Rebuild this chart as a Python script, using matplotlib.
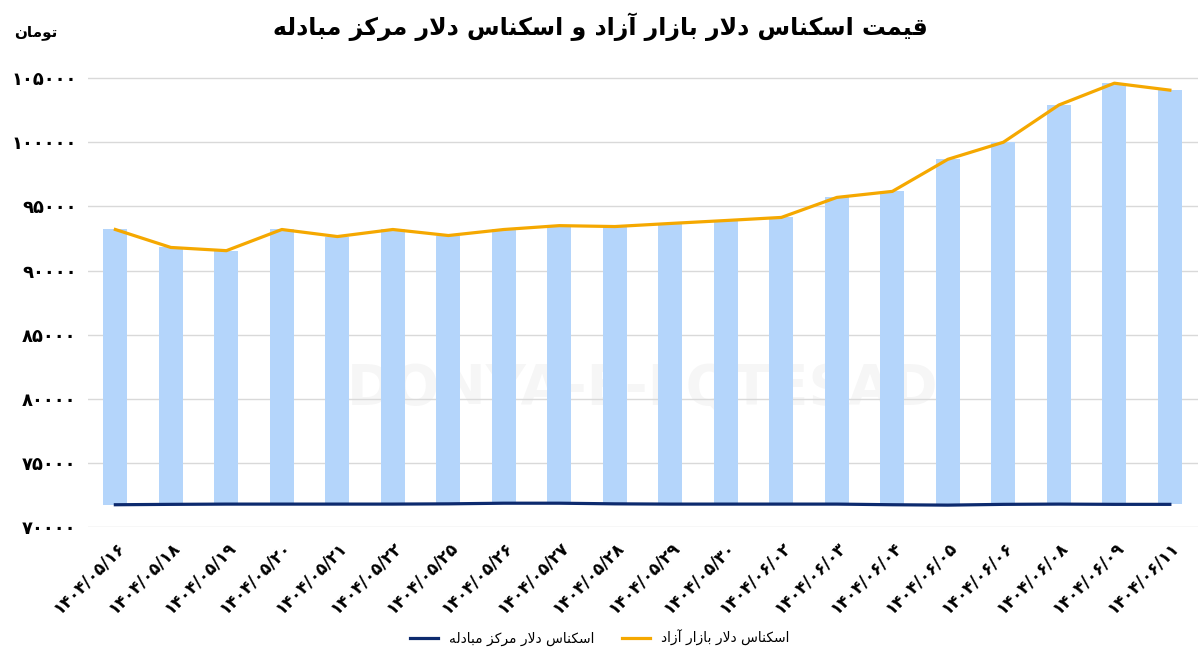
import matplotlib
matplotlib.use("Agg")
import matplotlib.pyplot as plt

# --- data ---
dates = ["1404/05/16", "1404/05/18", "1404/05/19", "1404/05/20", "1404/05/21", "1404/05/22",
         "1404/05/25", "1404/05/26", "1404/05/27", "1404/05/28", "1404/05/29", "1404/05/30",
         "1404/06/02", "1404/06/03", "1404/06/04", "1404/06/05", "1404/06/06", "1404/06/08",
         "1404/06/09", "1404/06/11"]
azad = [93200, 91800, 91550, 93200, 92650, 93200, 92730, 93200, 93500, 93430,
        93670, 93900, 94140, 95700, 96170, 98670, 100000, 102900, 104600, 104060]
mobadele = [71750, 71780, 71800, 71800, 71800, 71800, 71820, 71870, 71870, 71820,
            71800, 71800, 71800, 71800, 71750, 71720, 71780, 71800, 71780, 71780]
yticks = [70000, 75000, 80000, 85000, 90000, 95000, 100000, 105000]

TITLE = "قیمت اسکناس دلار بازار آزاد و اسکناس دلار مرکز مبادله"
LEG_AZAD = "اسکناس دلار بازار آزاد"
LEG_MOB = "اسکناس دلار مرکز مبادله"
UNIT = "تومان"

# --- minimal persian shaping (matplotlib has no bidi) ---
FORMS = {
    "ا": ("\uFE8D", "\uFE8E", None, None),
    "آ": ("\uFE81", "\uFE82", None, None),
    "ب": ("\uFE8F", "\uFE90", "\uFE91", "\uFE92"),
    "ت": ("\uFE95", "\uFE96", "\uFE97", "\uFE98"),
    "د": ("\uFEA9", "\uFEAA", None, None),
    "ر": ("\uFEAD", "\uFEAE", None, None),
    "ز": ("\uFEAF", "\uFEB0", None, None),
    "س": ("\uFEB1", "\uFEB2", "\uFEB3", "\uFEB4"),
    "ق": ("\uFED5", "\uFED6", "\uFED7", "\uFED8"),
    "ک": ("\uFB8E", "\uFB8F", "\uFB90", "\uFB91"),
    "ل": ("\uFEDD", "\uFEDE", "\uFEDF", "\uFEE0"),
    "م": ("\uFEE1", "\uFEE2", "\uFEE3", "\uFEE4"),
    "ن": ("\uFEE5", "\uFEE6", "\uFEE7", "\uFEE8"),
    "ه": ("\uFEE9", "\uFEEA", "\uFEEB", "\uFEEC"),
    "و": ("\uFEED", "\uFEEE", None, None),
    "ی": ("\uFBFC", "\uFBFD", "\uFBFE", "\uFBFF"),
}


def joins_next(ch):
    return ch in FORMS and FORMS[ch][2] is not None


def shape(text):
    out = []
    chars = list(text)
    i = 0
    while i < len(chars):
        c = chars[i]
        prev = chars[i - 1] if i > 0 else " "
        p = joins_next(prev)
        if c == "ل" and i + 1 < len(chars) and chars[i + 1] == "ا":
            out.append("\uFEFC" if p else "\uFEFB")
            chars[i + 1] = " "  # consumed, breaks join for next letter
            i += 2
            continue
        if c not in FORMS:
            out.append(c)
            i += 1
            continue
        nxt = chars[i + 1] if i + 1 < len(chars) else " "
        n = joins_next(c) and nxt in FORMS
        iso, fin, ini, med = FORMS[c]
        if p and n:
            out.append(med)
        elif p:
            out.append(fin)
        elif n:
            out.append(ini)
        else:
            out.append(iso)
        i += 1
    return "".join(reversed(out))


def fa_digits(s):
    return s.translate(str.maketrans("0123456789", "۰۱۲۳۴۵۶۷۸۹"))


plt.rcParams["font.family"] = "DejaVu Sans"

fig = plt.figure(figsize=(12, 6.59), dpi=100)
ax = fig.add_axes([0.073, 0.2, 0.925, 0.701])

x = list(range(len(dates)))
heights = [a - m for a, m in zip(azad, mobadele)]
ax.bar(x, heights, bottom=mobadele, width=0.43, color="#b4d5fb", zorder=2)
ax.plot(x, azad, color="#f5a800", lw=2.3, zorder=3, label=shape(LEG_AZAD))
ax.plot(x, mobadele, color="#0d2a6e", lw=2.3, zorder=3, label=shape(LEG_MOB))

ax.set_xlim(-0.5, len(dates) - 0.5)
ax.set_ylim(70000, 106000)
ax.set_yticks(yticks)
ax.set_yticklabels([fa_digits(str(v)) for v in yticks], fontsize=13, fontweight="bold")
ax.set_xticks(x)
ax.set_xticklabels([fa_digits(d) for d in dates], rotation=45, ha="right",
                   rotation_mode="anchor", fontsize=12, fontweight="bold")
ax.grid(axis="y", color="#d9d9d9", lw=1, zorder=0)
for s in ax.spines.values():
    s.set_visible(False)
ax.tick_params(length=0, pad=8)

# watermark
ax.text(0.5, 0.3, "DONYA-E-EQTESAD", transform=ax.transAxes, ha="center", va="center",
        fontsize=40, fontweight="bold", color="#000000", alpha=0.035, zorder=1)

fig.text(0.5, 0.96, shape(TITLE), ha="center", va="center", fontsize=17, fontweight="bold")
fig.text(0.03, 0.95, shape(UNIT), ha="center", va="center", fontsize=11, fontweight="bold")

leg = fig.legend(handles=ax.get_lines()[::-1], loc="lower center", ncol=2, frameon=False,
                 bbox_to_anchor=(0.5, 0.0), fontsize=10, handlelength=2)

fig.savefig("out.png", dpi=100)
